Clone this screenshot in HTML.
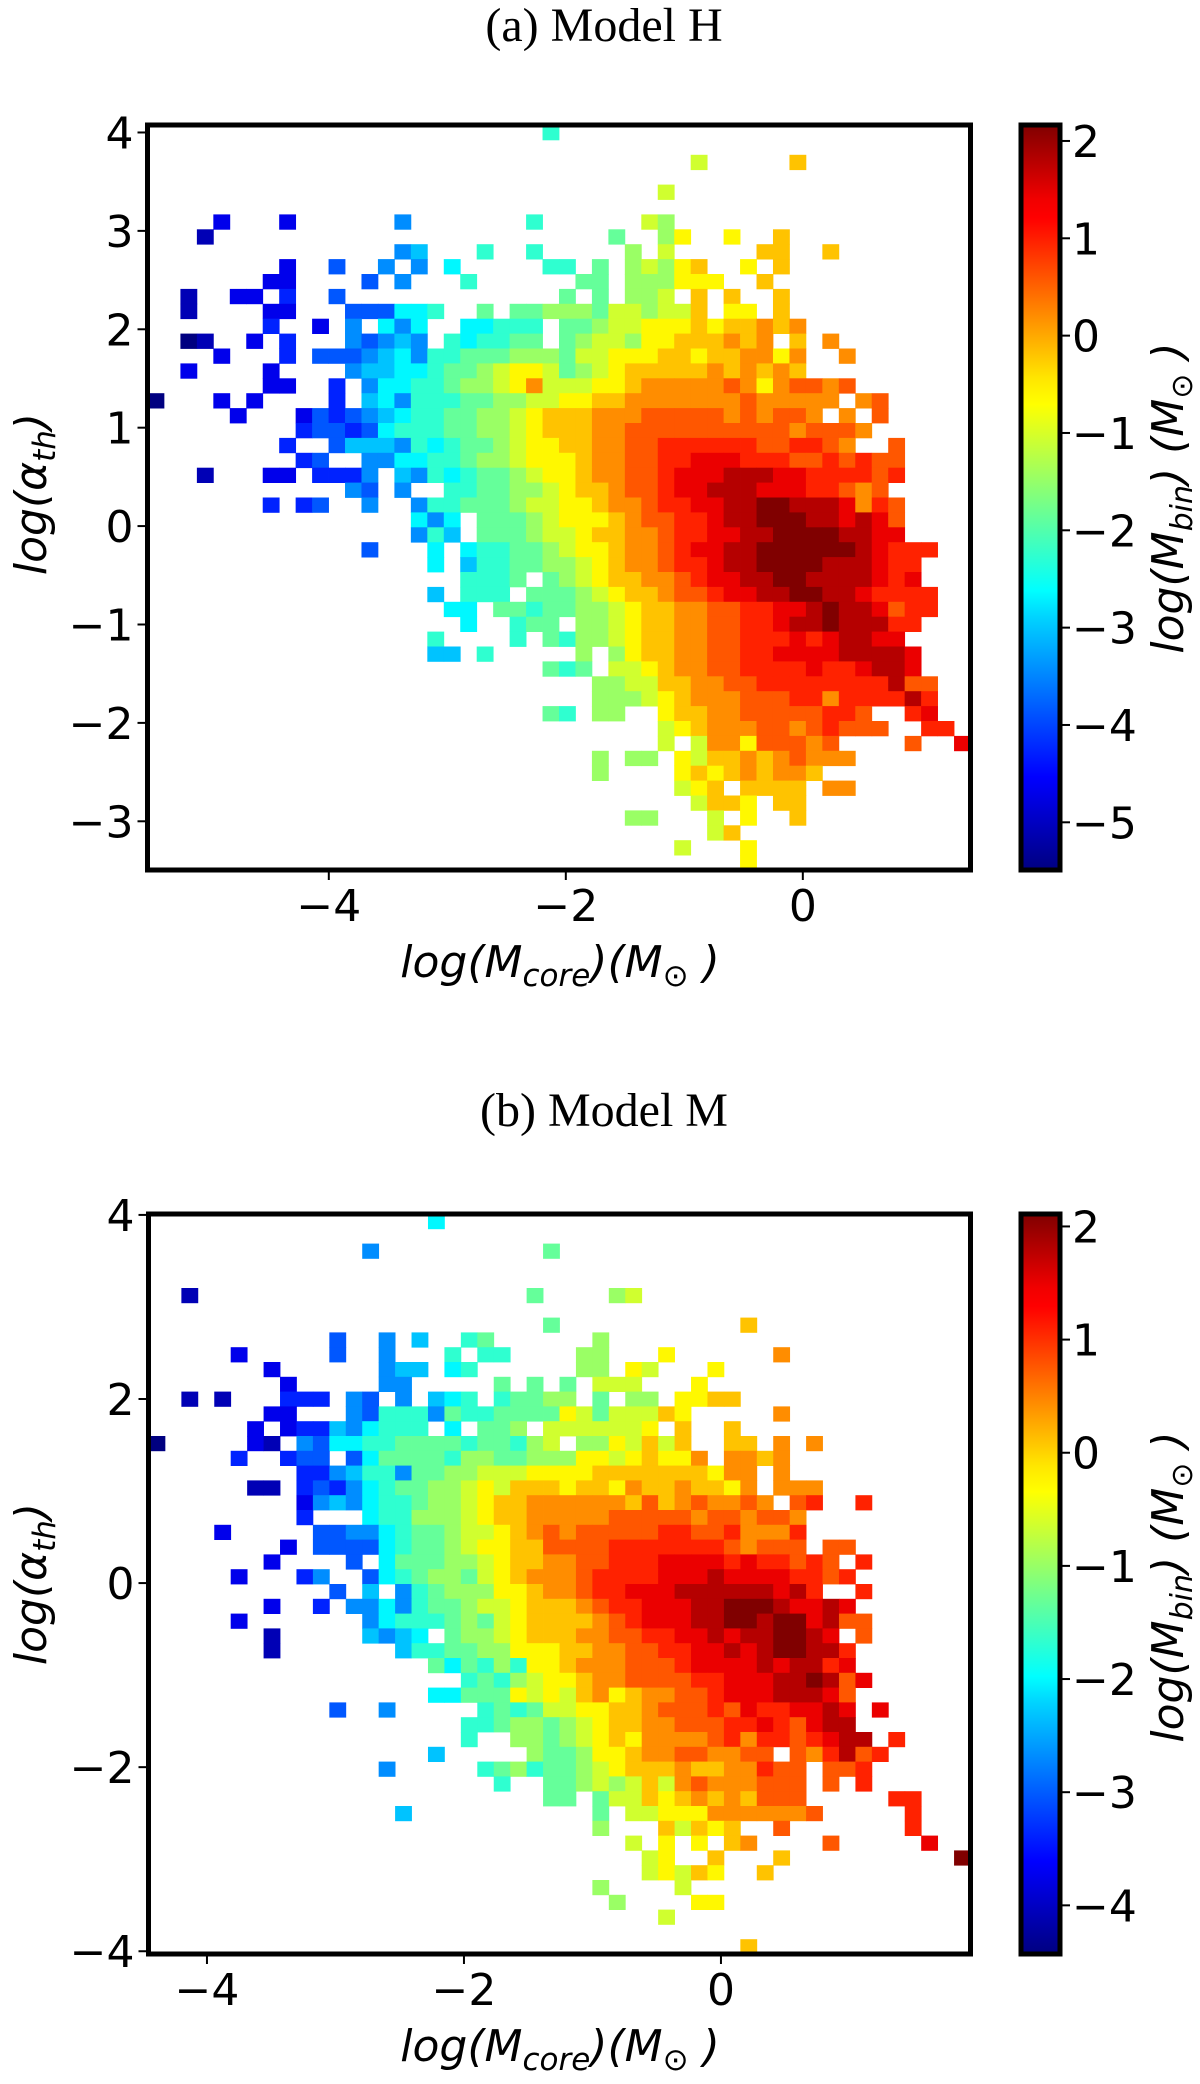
<!DOCTYPE html>
<html><head><meta charset="utf-8"><title>Model H / Model M heatmaps</title>
<style>
html,body{margin:0;padding:0;background:#fff;}
svg{display:block;}
.tick{font-family:"DejaVu Sans","Liberation Sans",sans-serif;font-size:44px;fill:#000;}
.lab{font-family:"DejaVu Sans","Liberation Sans",sans-serif;font-style:italic;font-size:44px;fill:#000;}
.ttl{font-family:"Liberation Serif",serif;font-size:48px;fill:#000;}
</style></head>
<body>
<svg id="fig" xmlns="http://www.w3.org/2000/svg" width="1200" height="2084" viewBox="0 0 1200 2084">
<defs>
<linearGradient id="jetgrad" x1="0" y1="1" x2="0" y2="0">
<stop offset="0" stop-color="#000080"/><stop offset="0.11" stop-color="#0000f1"/>
<stop offset="0.125" stop-color="#0000ff"/><stop offset="0.34" stop-color="#00d4ff"/>
<stop offset="0.375" stop-color="#00ffff"/><stop offset="0.5" stop-color="#7fff7f"/>
<stop offset="0.625" stop-color="#ffff00"/><stop offset="0.66" stop-color="#ffe600"/>
<stop offset="0.875" stop-color="#ff0000"/><stop offset="0.9" stop-color="#f10000"/>
<stop offset="1" stop-color="#800000"/>
</linearGradient>
</defs>
<text class="ttl" x="604" y="41" text-anchor="middle">(a) Model H</text>
<text class="ttl" x="604" y="1126" text-anchor="middle">(b) Model M</text>
<g id="panelA"></g>
<g id="panelB"></g>
</svg>
<script>
// ---- data: each row (top to bottom) lists "startCol:levels" runs; level chars index 0..19 on colour scale ----
const levelChars = "0123456789ABCDEFGHIJ";
const rowsA = [
"24:8","","33:B 39:D","","31:B","",
"4:2 8:2 15:5 23:8 30:BA",
"3:1 28:9 31:AC 35:C 38:D",
"15:56 20:8 23:8 29:A 31:B 37:DD 41:D",
"8:2 11:4 14:5 16:5 18:7 24:88 27:9 29:ABACD 36:C 38:D",
"7:22 13:4 15:5 19:8 26:99 29:AAACCC 37:D",
"2:1 5:22 8:3 11:4 25:9 27:9 29:AAB 33:D 35:D 38:D",
"2:1 7:22 12:444 15:778 20:9 22:99AAA9BBABBD 35:CC 38:D",
"7:3 10:2 12:5 14:757 19:77888 25:99ABBCCCDCDDEDE",
"2:01 6:2 8:3 12:54565 18:878899 25:9ABBACCDDDEDE 39:D 41:E",
"4:2 8:3 10:4445675889 20:99AAA9BBCCCDDCDDEECE 42:E",
"2:2 7:2 12:5667789 19:9ABCCB9ABCDDDDDEDEDED",
"7:22 11:3 13:57788 18:9AABCEBBBCCDEEEEEFECEFFEF",
"0:0 4:2 6:2 11:3 13:675888 19:99AABBCCDDEEEEEEEFEEEEE 43:EF",
"5:2 9:24345678899AABCDDDEEEFFFFFEFEFFE 42:E 44:F",
"9:34434788899AABCDDDEEFFFFFFFFFFEFFFE",
"8:3 11:46665878 19:99ABCCDDEEFFGGGGGGFFGGFE 45:F",
"9:34 13:557788 19:9AABCCCDEEFFGGHHHGGGFFGFGFF",
"3:1 7:22 10:3335 15:65878 20:99ABCCDEEFFGHHHIIIHHGGGGFG",
"12:54 15:5 18:8899AABCDDEFFGHHIIIHHHGGFEF",
"7:3 9:34 13:5 16:58899 21:9ABBCCDEEFGGHHIIJJIIIHEGF",
"16:757 20:999ABCCCDEFFGGHIIJJJIIHIHF",
"16:586 20:999ABBCDDEEFGGHHIIJJJJIIHH",
"13:4 17:7 19:7889 23:9ABCCDEEFGHHIIJJJJJJIHGGG",
"17:7 19:6889 23:9AABCDEEFGGHIIJJJJIIIHGG",
"19:8889 24:9ABCDDEEFGHHIIJJIIIIHGH",
"17:6 19:888 23:999ABCDDEFFGHHIIJJIIHGGGG",
"18:77 21:99899AABCDDEEFFGGHHIJIIHFGG",
"19:7 22:899 26:AABCDDEEFFGGHIIJIIIGG",
"17:8 22:8 24:98AABCDDEEFFGGGHGHIIHH",
"17:66 20:8 26:A 28:ACDDEEFFGGHHHHIIIIH",
"24:989 28:BBCDEEFFGGGGHGGHIIH",
"27:AABBDDEEFFGGGGGGGGIFF",
"27:AAABCDEEEFFFGGEGGGGIG",
"24:98 27:AA 31:CDDEEFFFFFGGF 46:GH",
"31:BCDEEEFFEFGFFF 47:GG",
"31:B 33:BEECFFFEF 46:F 49:H",
"27:A 29:AA 32:CBDDEDEFEEE",
"27:A 32:CDCDEDEED",
"32:BCD 36:DDDD 41:EE",
"33:BDDC 38:DD",
"29:AA 34:B 36:C 39:D",
"34:BD",
"32:B 36:C",
"36:C"
];
const rowsB = [
"17:7","","13:5 24:9","","",
"2:1 23:9 28:AB","",
"24:9 36:D",
"11:4 14:5 16:6 19:89 27:A",
"5:2 11:4 14:5 18:8 20:88 26:AA 31:C 38:E",
"7:2 14:566 18:78 26:AA 29:CB 34:C",
"8:2 14:55 21:9 23:9 25:9 27:BBB 33:C",
"2:1 4:1 8:333 12:54 15:5 17:678 21:899AA 27:9 29:AA 32:CCDD",
"7:22 12:5488859889999CB9BBBDC 38:E",
"6:2 8:233657888 18:7 20:99A 24:BBBBBBC 32:D 35:D",
"0:0 6:21 9:54778899998998AB 26:AACBDBD 35:DD 38:E 40:E",
"5:3 8:344 12:4799998AA99AAACCBCDCCE 35:EEDE",
"9:3356885 16:99AABBBCCCCDDDDDDDCEE 38:E",
"6:11 9:34357899AABCBDDDCDDCEDDEDDCE 38:EEE",
"9:25657889AABCDDEEEEEEDFDEFEEFE 39:FG 43:G",
"9:3 13:788AAABCDDEEEEEFFFFFEFFEFFE",
"4:2 10:44557899ABBCDEFEFFFFFGGFFGEEEG",
"8:2 10:44447899ABCCDDFFFFGGGGGGGFEFFF 41:FF",
"7:2 12:4 14:7999AABCDDEEFFGGGHHHHGHGGFGF 43:G",
"5:2 9:35 13:4789AA9BCDEEEFGGGGHHHIHHHHGGFG",
"11:4 13:6 15:589AAACCDEEFGGHHHIIIIIIHIG 43:G",
"7:2 10:3 12:5575899ABBCDDDEFGGHHHIIJJJIHHIH",
"5:2 13:578889A9BCDDDDEFGHHHIIJJIJJHIFF",
"7:1 13:6567 18:9AABCDDDEEFFGGHHIHIIJJIH 43:F",
"7:1 15:68899AACCCDDEEFFGGHHIHIJJIIG",
"17:9798A8CCDEEEFFFGHHHHIHIIGH",
"19:898ABCCDEEFFFFGGHHHIIJIFH",
"17:77999CBCBDECDEEFFGHHHIIIHF",
"11:4 14:5 20:8989BBCCDDEFFFGFHGGHHIH 44:H",
"19:889AA9ABCDDEEFFFGGHGFHII",
"19:8 22:AA9ABCDCEEEEFGEGGFGHII 45:G",
"17:6 23:A99ACCDEEFFEEFF 39:FEGIFG",
"14:5 20:89A899ABCDDDEDDEEGFF 41:FFG",
"21:8 24:99ABABDBEFEEEFFF 41:F 43:G",
"24:99 27:9BBDCDEDEDFFF 45:GG",
"15:6 27:9 29:BBCCCEEEEEEF 46:G",
"27:A 31:DBDCD 38:F 46:G",
"29:B 31:C 33:C 35:DE 41:F 47:H",
"30:BC 34:D 38:D 49:J",
"30:BCBDC 37:D",
"27:A 32:B",
"28:A 33:CC",
"31:B",
"",
"36:D"
];
const xTicksA = [-4, -2, 0];
const yTicksA = [4, 3, 2, 1, 0, -1, -2, -3];
const cbTicksA = [2, 1, 0, -1, -2, -3, -4, -5];
const xTicksB = [-4, -2, 0];
const yTicksB = [4, 2, 0, -2, -4];
const cbTicksB = [2, 1, 0, -1, -2, -3, -4];
const xRangeA = [-5.53, 1.415], yRangeA = [-3.495, 4.076], cRangeA = [-5.49, 2.164];
const xRangeB = [-4.455, 1.942], yRangeB = [-4.03, 4.01], cRangeB = [-4.43, 2.11];

const NS = "http://www.w3.org/2000/svg";
function el(tag, attrs, parent) {
  const e = document.createElementNS(NS, tag);
  for (const k in attrs) e.setAttribute(k, attrs[k]);
  parent.appendChild(e);
  return e;
}
function jet(t) {
  t = Math.max(0, Math.min(1, t));
  const c = v => Math.round(255 * Math.max(0, Math.min(1, v)));
  return "rgb(" + c(1.5 - Math.abs(4 * t - 3)) + "," + c(1.5 - Math.abs(4 * t - 2)) + "," + c(1.5 - Math.abs(4 * t - 1)) + ")";
}
function parseRows(rows, cr) {
  const cells = [];
  rows.forEach((r, ri) => {
    r.split(" ").filter(s => s).forEach(seg => {
      const [s, chars] = seg.split(":");
      const start = parseInt(s, 10);
      for (let k = 0; k < chars.length; k++) {
        const idx = levelChars.indexOf(chars[k]);
        if (idx < 0) continue;
        cells.push({col: start + k, row: ri, value: cr[0] + idx / 19 * (cr[1] - cr[0])});
      }
    });
  });
  return cells;
}
function fmt(v) { return (v < 0 ? "\u2212" : "") + Math.abs(v); }

function drawPanel(g, P) {
  const xS = v => P.x0 + (v - P.xr[0]) / (P.xr[1] - P.xr[0]) * (P.x1 - P.x0);
  const yS = v => P.y1 - (v - P.yr[0]) / (P.yr[1] - P.yr[0]) * (P.y1 - P.y0);
  const cS = v => P.y1 - (v - P.cr[0]) / (P.cr[1] - P.cr[0]) * (P.y1 - P.y0);
  const n = 50;
  const dx = (P.xr[1] - P.xr[0]) / n, dy = (P.yr[1] - P.yr[0]) / n;
  const cells = parseRows(P.rows, P.cr);
  const cg = el("g", {}, g);
  
  
  cells.forEach(c => {
    const xa = P.xr[0] + c.col * dx, xb = xa + dx;
    const yt = P.yr[1] - c.row * dy, yb = yt - dy;
    const r = el("rect", {x: xS(xa).toFixed(2), y: yS(yt).toFixed(2),
      width: (xS(xb) - xS(xa) + 0.4).toFixed(2), height: (yS(yb) - yS(yt) + 0.4).toFixed(2),
      fill: jet((c.value - P.cr[0]) / (P.cr[1] - P.cr[0]))}, cg);
    
    
  });
  const fr = el("rect", {x: P.x0, y: P.y0, width: P.x1 - P.x0, height: P.y1 - P.y0, fill: "none", stroke: "#000", "stroke-width": 5}, g);
  
  
  P.xt.forEach(v => {
    const x = xS(v);
    const t = el("line", {x1: x, x2: x, y1: P.y1 + 2, y2: P.y1 + 10, stroke: "#000", "stroke-width": 2}, g);
    
    
    const l = el("text", {x: x, y: P.y1 + 51, "text-anchor": "middle", class: "tick"}, g);
    l.textContent = fmt(v);
    
    
  });
  P.yt.forEach(v => {
    const y = yS(v);
    const t = el("line", {x1: P.x0 - 10, x2: P.x0 - 2, y1: y, y2: y, stroke: "#000", "stroke-width": 2}, g);
    
    
    const l = el("text", {x: P.x0 - 14, y: y + 16, "text-anchor": "end", class: "tick"}, g);
    l.textContent = fmt(v);
    
    
  });
  const cb = el("rect", {x: P.cbx, y: P.y0, width: 39, height: P.y1 - P.y0, fill: "url(#jetgrad)", stroke: "#000", "stroke-width": 5}, g);
  
  
  P.ct.forEach(v => {
    const y = cS(v);
    const t = el("line", {x1: P.cbx + 41, x2: P.cbx + 49, y1: y, y2: y, stroke: "#000", "stroke-width": 2}, g);
    
    
    const l = el("text", {x: P.cbx + 51, y: y + 16, "text-anchor": "start", class: "tick"}, g);
    l.textContent = fmt(v);
    
    
  });
  const xl = el("text", {x: 560, y: P.y1 + 107, "text-anchor": "middle", class: "lab"}, g);
  xl.innerHTML = 'log(M<tspan font-size="31" dy="9">core</tspan><tspan dy="-9">)(M</tspan><tspan font-size="31" dy="9">\u2299</tspan><tspan dy="-9"> )</tspan>';
  
  
  const yl = el("text", {transform: "translate(46," + P.ylc + ") rotate(-90)", "text-anchor": "middle", class: "lab"}, g);
  yl.innerHTML = 'log(\u03b1<tspan font-size="31" dy="9">th</tspan><tspan dy="-9">)</tspan>';
  
  
  const cl = el("text", {transform: "translate(1183," + P.clc + ") rotate(-90)", "text-anchor": "middle", class: "lab", "font-size": "42"}, g);
  cl.innerHTML = 'log(M<tspan font-size="30" dy="9">bin</tspan><tspan dy="-9">) (M</tspan><tspan font-size="30" dy="9">\u2299</tspan><tspan dy="-9"> )</tspan>';
  
  
}

drawPanel(document.getElementById("panelA"), {
  rows: rowsA, xr: xRangeA, yr: yRangeA, cr: cRangeA,
  x0: 147.5, x1: 970.5, y0: 125, y1: 870, cbx: 1021,
  xt: xTicksA, yt: yTicksA, ct: cbTicksA, ylc: 494, clc: 498
});
drawPanel(document.getElementById("panelB"), {
  rows: rowsB, xr: xRangeB, yr: yRangeB, cr: cRangeB,
  x0: 148.5, x1: 970.5, y0: 1214, y1: 1954, cbx: 1021,
  xt: xTicksB, yt: yTicksB, ct: cbTicksB, ylc: 1584, clc: 1587
});
</script>
</body></html>
